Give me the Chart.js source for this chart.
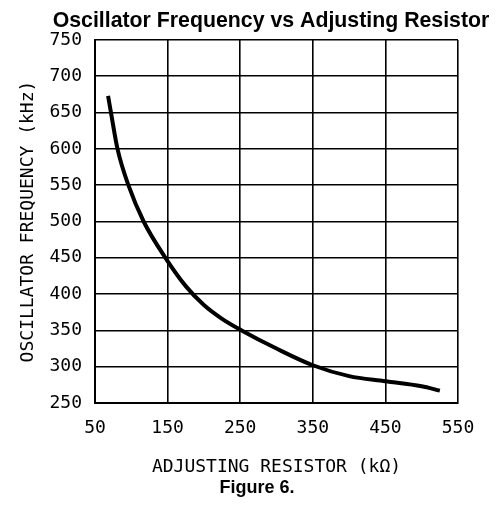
<!DOCTYPE html>
<html>
<head>
<meta charset="utf-8">
<script src="https://cdn.jsdelivr.net/npm/chart.js@4/dist/chart.umd.min.js"></script>
<style>
    body { margin: 0; background: #fff; }
    #wrap { width: 498px; height: 506px; }
</style>
</head>
<body>
<div id="wrap"><canvas id="oscChart" width="498" height="506"></canvas></div>
<script>
// values
var resistance = [68, 72, 81, 96, 117, 147, 175, 200, 225, 252, 300, 350, 400, 450, 500, 525]; // kOhm
var frequency = [673, 650, 600, 550, 500, 450, 411, 385, 366, 350, 325, 302, 287, 280, 273, 267]; // kHz

var xTicks = [50, 150, 250, 350, 450, 550];
var yTicks = [250, 300, 350, 400, 450, 500, 550, 600, 650, 700, 750];

var chartTitle = "Oscillator Frequency vs Adjusting Resistor";
var figureCaption = "Figure 6.";
var xTitle = "ADJUSTING RESISTOR (k\u03A9)";
var yTitle = "OSCILLATOR FREQUENCY (kHz)";

var points = resistance.map(function (r, i) {
    return {x: r, y: frequency[i]};
});

var monoFont = {family: "'DejaVu Sans Mono', monospace", size: 18};

// heading and caption drawn as plain canvas text
var captionPlugin = {
    id: 'captions',
    afterDraw: function (chart) {
        var ctx = chart.ctx;
        ctx.save();
        ctx.fillStyle = '#000';
        ctx.textAlign = 'center';
        ctx.textBaseline = 'alphabetic';
        ctx.font = "bold 21.3px 'Liberation Sans', Arial, sans-serif";
        ctx.fillText(chartTitle, 271, 27);
        ctx.font = "bold 18px 'Liberation Sans', Arial, sans-serif";
        ctx.fillText(figureCaption, 257, 493);
        ctx.restore();
    }
};

new Chart(document.getElementById("oscChart"), {
    type: 'scatter',
    data: {
        datasets: [{
            data: points,
            showLine: true,
            borderColor: '#000',
            borderWidth: 4,
            pointRadius: 0,
            cubicInterpolationMode: 'monotone',
            fill: false
        }]
    },
    options: {
        responsive: false,
        animation: false,
        layout: {
            padding: {top: 40, right: 40, bottom: 23, left: 0}
        },
        plugins: {
            legend: {display: false},
            title: {display: false},
            tooltip: {enabled: false}
        },
        scales: {
            x: {
                type: 'linear',
                min: 50,
                max: 550,
                afterBuildTicks: function (scale) {
                    scale.ticks = xTicks.map(function (v) { return {value: v}; });
                },
                afterFit: function (scale) {
                    scale.height = 80;
                },
                grid: {color: '#000', lineWidth: 1.6, drawTicks: false},
                border: {color: '#000', width: 2},
                ticks: {color: '#000', font: monoFont, padding: 15, maxRotation: 0},
                title: {
                    display: true,
                    text: xTitle,
                    color: '#000',
                    font: monoFont,
                    padding: {top: 0, bottom: 5}
                }
            },
            y: {
                type: 'linear',
                min: 250,
                max: 750,
                afterBuildTicks: function (scale) {
                    scale.ticks = yTicks.map(function (v) { return {value: v}; });
                },
                afterFit: function (scale) {
                    scale.width = 95;
                },
                grid: {color: '#000', lineWidth: 1.6, drawTicks: false},
                border: {color: '#000', width: 2},
                ticks: {color: '#000', font: monoFont, padding: 13},
                title: {
                    display: true,
                    text: yTitle,
                    color: '#000',
                    font: monoFont,
                    padding: {top: 18, bottom: 0}
                }
            }
        }
    },
    plugins: [captionPlugin]
});
</script>
</body>
</html>
